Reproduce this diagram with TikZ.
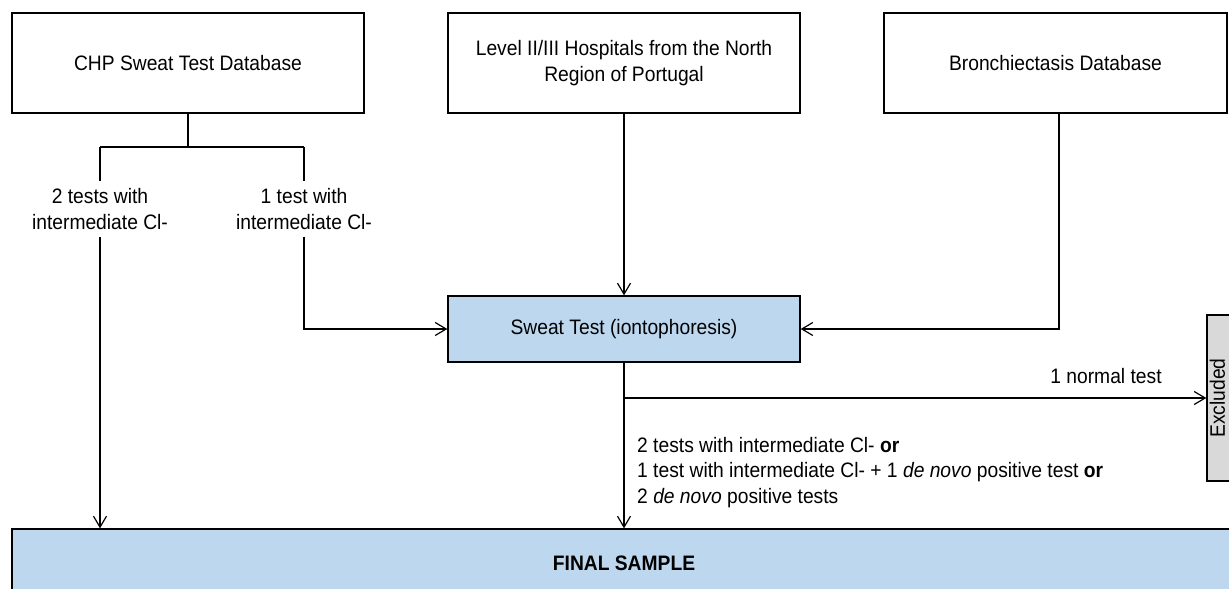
\documentclass[tikz,border=0pt]{standalone}
\usepackage{fontspec}
\setmainfont{Liberation Sans}[FakeStretch=0.92]
\usetikzlibrary{arrows.meta}
\definecolor{boxblue}{HTML}{BDD7EE}
\definecolor{exgray}{HTML}{D9D9D9}
\begin{document}
\begin{tikzpicture}[x=1bp,y=-1bp,
  font=\fontsize{21}{25.5}\selectfont,
  box/.style={draw=black, line width=1.3bp, rectangle, align=center, inner sep=0pt},
  conn/.style={draw=black, line width=1.2bp},
  arr/.style={conn, -{Straight Barb[length=11bp,width=13bp]}},
  lbl/.style={align=center, inner sep=7bp}]
\useasboundingbox (0,0) rectangle (1229,589);
% boxes
\node[box, minimum width=352bp, minimum height=100bp] (chp) at (188,63) {CHP Sweat Test Database};
\node[box, minimum width=352bp, minimum height=100bp] (lvl) at (624,63) {Level II/III Hospitals from the North\\Region of Portugal};
\node[box, minimum width=343bp, minimum height=100bp] (bro) at (1055.5,63) {Bronchiectasis Database};
\node[box, fill=boxblue, minimum width=352bp, minimum height=66bp] (sweat) at (624,329) {Sweat Test (iontophoresis)};
\node[box, fill=exgray, minimum width=40bp, minimum height=166bp] (excl) at (1227,398) {};
\node[rotate=90, inner sep=0pt] (exlbl) at (1217.5,398) {Excluded};
\node[box, fill=boxblue, minimum width=1224bp, minimum height=68bp] (final) at (624,563) {\textbf{FINAL SAMPLE}};
% split from CHP
\coordinate (s1) at (188,147);
\coordinate (sL) at (100,147);
\coordinate (sR) at (304,147);
\draw[conn] (chp.south) -- (s1);
\draw[conn] (sL) -- (sR);
\node[lbl] (t2) at (100,209) {2 tests with\\intermediate Cl-};
\node[lbl] (t1) at (304,209) {1 test with\\intermediate Cl-};
\draw[conn] (sL) -- (t2);
\draw[arr] (t2) -- (t2 |- final.north);
\draw[conn] (sR) -- (t1);
\draw[arr] (t1) |- (sweat.west);
% hospitals
\draw[arr] (lvl.south) -- (sweat.north);
% bronchiectasis
\coordinate (b1) at (1059,113);
\draw[arr] (b1) |- (sweat.east);
% sweat test outputs
\draw[arr] (sweat.south) -- (final.north);
\coordinate (j) at (624,398);
\draw[arr] (j) -- (excl.west);
\node (normal) at (1106,376) {1 normal test};
\node[anchor=north west, align=left, inner sep=0pt] (crit) at (637,437)
  {2 tests with intermediate Cl- \textbf{or}\\
   1 test with intermediate Cl- + 1 \textit{de novo} positive test \textbf{or}\\
   2 \textit{de novo} positive tests};
\end{tikzpicture}
\end{document}
